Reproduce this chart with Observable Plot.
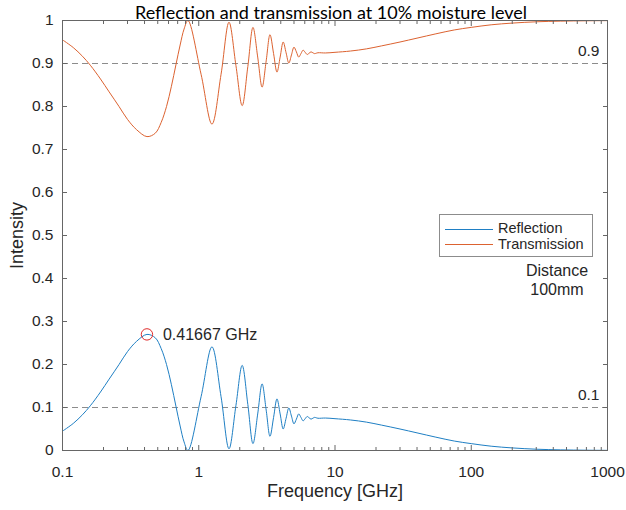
<!DOCTYPE html>
<html>
<head>
<meta charset="utf-8">
<script src="https://cdn.jsdelivr.net/npm/d3@7"></script>
<script src="https://cdn.jsdelivr.net/npm/@observablehq/plot@0.6"></script>
<style>
  body { margin: 0; background: #fff; }
  #chart { position: relative; width: 626px; height: 510px; }
  .legend { position: absolute; left: 439px; top: 214px; width: 152px; height: 41px;
            border: 1px solid #8c8c8c; background: #fff;
            font: 14.5px "Liberation Sans", Arial, sans-serif; color: #262626; }
  .legend .row { position: absolute; left: 0; height: 15px; line-height: 15px; white-space: nowrap; }
  .legend .swatch { display: inline-block; width: 48px; height: 0; margin: 0 5px 0 5px; vertical-align: middle; }
  .note { position: absolute; left: 512px; top: 261px; width: 90px; text-align: center;
          font: 16px/19px "Liberation Sans", Arial, sans-serif; color: #262626; }
</style>
</head>
<body>
<div id="chart"></div>
<script>
// Frequency samples (GHz) shared by both curves
const freqGHz = [
  0.1, 0.12, 0.14, 0.16, 0.19, 0.22, 0.26, 0.30, 0.35, 0.41667, 0.48, 0.53, 0.58, 0.63, 0.68, 0.73, 0.78, 0.8333,
  1.04, 1.25, 1.458, 1.667,
  1.875, 2.083, 2.292, 2.5,
  2.708, 2.917, 3.125, 3.333,
  3.542, 3.75, 3.958, 4.167,
  4.375, 4.583, 4.792, 5.0,
  5.208, 5.417, 5.625, 5.833,
  6.042, 6.25, 6.458, 6.667,
  6.875, 7.083, 7.292, 7.5,
  8.5, 10, 13, 17, 22, 30, 40, 55, 75, 100, 140, 200, 300, 450, 700, 1000
];

// Reflected intensity
const reflection = [
  0.045, 0.063, 0.083, 0.104, 0.136, 0.166, 0.2, 0.23, 0.254, 0.27, 0.262, 0.237, 0.2, 0.153, 0.103, 0.057, 0.02, 0.0,
  0.125, 0.241, 0.125, 0.004,
  0.105, 0.198, 0.107, 0.016,
  0.085, 0.155, 0.094, 0.033,
  0.077, 0.12, 0.085, 0.05,
  0.075, 0.099, 0.08, 0.062,
  0.073, 0.085, 0.077, 0.069,
  0.074, 0.079, 0.076, 0.073,
  0.075, 0.077, 0.076, 0.075,
  0.0755, 0.074, 0.071, 0.066, 0.059, 0.05, 0.041, 0.031, 0.022, 0.016, 0.01, 0.006, 0.003, 0.0015, 0.0007, 0.0003
];

// Transmitted intensity
const transmission = [
  0.955, 0.937, 0.917, 0.896, 0.864, 0.834, 0.8, 0.77, 0.746, 0.73, 0.738, 0.763, 0.8, 0.847, 0.897, 0.943, 0.98, 1.0,
  0.875, 0.759, 0.875, 0.996,
  0.895, 0.802, 0.893, 0.984,
  0.915, 0.845, 0.906, 0.967,
  0.923, 0.88, 0.915, 0.95,
  0.925, 0.901, 0.92, 0.938,
  0.927, 0.915, 0.923, 0.931,
  0.926, 0.921, 0.924, 0.927,
  0.925, 0.923, 0.924, 0.925,
  0.9245, 0.926, 0.929, 0.934, 0.941, 0.95, 0.959, 0.969, 0.978, 0.984, 0.99, 0.994, 0.997, 0.9985, 0.9993, 0.9997
];

const seriesNames = ["Reflection", "Transmission"];
const seriesColors = ["#1f7fc4", "#dc6230"];

// First reflection maximum
const peakFreq = 0.41667;
const peakValue = 0.27;
const peakLabel = "0.41667 GHz";

// Reference levels
const refLevels = [0.1, 0.9];

// Axis ticks
const xTicks = [0.1, 1, 10, 100, 1000];
const xTickLabels = ["0.1", "1", "10", "100", "1000"];
const xMinorSteps = [2, 3, 4, 5, 6, 7, 8, 9];
const yTicks = [0, 0.1, 0.2, 0.3, 0.4, 0.5, 0.6, 0.7, 0.8, 0.9, 1];
const yTickLabels = ["0", "0.1", "0.2", "0.3", "0.4", "0.5", "0.6", "0.7", "0.8", "0.9", "1"];

const titleText = "Reflection and transmission at 10% moisture level";
const xLabel = "Frequency [GHz]";
const yLabel = "Intensity";
const noteLines = ["Distance", "100mm"];

const xMinor = xTicks.slice(0, -1).flatMap(d => xMinorSteps.map(k => k * d));
const xFmt = d => xTickLabels[xTicks.indexOf(d)];
const yFmt = d => yTickLabels[yTicks.indexOf(d)];

const axisInk = "#666666";
const textInk = "#262626";

const chart = Plot.plot({
  width: 626,
  height: 510,
  marginLeft: 62,
  marginRight: 19,
  marginTop: 20,
  marginBottom: 60,
  x: {type: "log", domain: [0.1, 1000]},
  y: {domain: [0, 1]},
  style: {fontFamily: "'Liberation Sans', Arial, sans-serif", fontSize: "15px", color: textInk, background: "#fff"},
  marks: [
    Plot.ruleY(refLevels, {y: d => d, stroke: "#8c8c8c", strokeDasharray: "6,4", strokeWidth: 1}),
    Plot.text(refLevels, {y: d => d, frameAnchor: "right", text: d => String(d), textAnchor: "end",
      lineAnchor: "middle", dx: -8, dy: -12, fontSize: 15.5, fill: textInk}),
    Plot.line(freqGHz, {x: d => d, y: reflection, stroke: seriesColors[0], strokeWidth: 1, curve: "catmull-rom"}),
    Plot.line(freqGHz, {x: d => d, y: transmission, stroke: seriesColors[1], strokeWidth: 1, curve: "catmull-rom"}),
    Plot.dot([peakFreq], {x: d => d, y: [peakValue], r: 5.7, stroke: "#e02a2a", fill: "none", strokeWidth: 1}),
    Plot.text([peakFreq], {x: d => d, y: [peakValue], text: [peakLabel], textAnchor: "start", dx: 16,
      fontSize: 16, fill: textInk}),
    Plot.frame({stroke: axisInk, strokeWidth: 1}),
    Plot.axisX(xTicks, {anchor: "bottom", tickSize: -5, tickPadding: 20, tickFormat: xFmt, label: null,
      fontSize: 15.5, stroke: axisInk, fill: textInk}),
    Plot.axisX(xMinor, {anchor: "bottom", tickSize: -3, tickFormat: () => "", label: null, stroke: axisInk}),
    Plot.axisX(xTicks, {anchor: "top", tickSize: -5, tickFormat: () => "", label: null, stroke: axisInk}),
    Plot.axisX(xMinor, {anchor: "top", tickSize: -3, tickFormat: () => "", label: null, stroke: axisInk}),
    Plot.axisY(yTicks, {anchor: "left", tickSize: -5, tickPadding: 14, tickFormat: yFmt, label: null,
      fontSize: 15.5, stroke: axisInk, fill: textInk}),
    Plot.axisY(yTicks, {anchor: "right", tickSize: -5, tickFormat: () => "", label: null, stroke: axisInk}),
    Plot.text([xLabel], {frameAnchor: "bottom", lineAnchor: "middle", textAnchor: "middle", dy: 41,
      fontSize: 18, fill: textInk}),
    Plot.text([yLabel], {frameAnchor: "left", lineAnchor: "middle", textAnchor: "middle", dx: -45, rotate: -90,
      fontSize: 18, fill: textInk}),
    Plot.text([titleText], {frameAnchor: "top", lineAnchor: "middle", textAnchor: "middle", dx: -4, dy: -7.5,
      fontFamily: "Lato", fontSize: 18, fill: "#000"})
  ]
});

const root = document.getElementById("chart");
root.appendChild(chart);

// Legend box
const legend = document.createElement("div");
legend.className = "legend";
seriesNames.forEach((name, i) => {
  const row = document.createElement("div");
  row.className = "row";
  row.style.top = (6 + i * 15.5) + "px";
  const sw = document.createElement("span");
  sw.className = "swatch";
  sw.style.borderTop = "1px solid " + seriesColors[i];
  row.appendChild(sw);
  row.appendChild(document.createTextNode(name));
  legend.appendChild(row);
});
root.appendChild(legend);

// Distance note under the legend
const note = document.createElement("div");
note.className = "note";
note.innerHTML = noteLines.join("<br>");
root.appendChild(note);
</script>
</body>
</html>
